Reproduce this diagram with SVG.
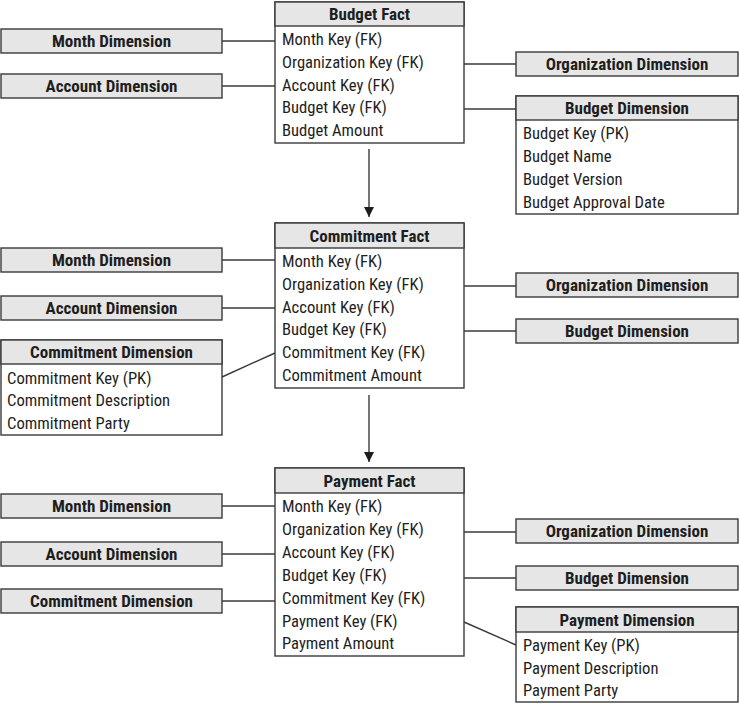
<svg xmlns="http://www.w3.org/2000/svg" width="739" height="704" viewBox="0 0 739 704">
<defs>
<style>
.box{fill:#fff;stroke:#3a3a3a;stroke-width:1.4}
.hd{fill:#e6e6e6;stroke:#3a3a3a;stroke-width:1.4}
.ht{font-family:"Liberation Sans Narrow","Roboto Condensed","DejaVu Sans Condensed",sans-serif;font-weight:bold;font-size:17px;fill:#1e1e1e;text-anchor:middle}
.t{font-family:"Liberation Sans Narrow","Roboto Condensed","DejaVu Sans Condensed",sans-serif;font-size:16.6px;fill:#1e1e1e}
.ln{stroke:#3a3a3a;stroke-width:1.4;fill:none}
</style>
<marker id="ah" viewBox="0 0 10 10" refX="10" refY="5" markerWidth="10" markerHeight="10" markerUnits="userSpaceOnUse" orient="auto">
<path d="M0,0 L10,5 L0,10 z" fill="#1e1e1e"/>
</marker>
</defs>
<rect width="739" height="704" fill="#fff"/>

<g id="connectors">
<line class="ln" x1="222" y1="41" x2="275" y2="41"/>
<line class="ln" x1="222" y1="86" x2="275" y2="86"/>
<line class="ln" x1="464" y1="64" x2="516" y2="64"/>
<line class="ln" x1="464" y1="109" x2="516" y2="109"/>
<line class="ln" x1="369" y1="149" x2="369" y2="217" marker-end="url(#ah)"/>
<line class="ln" x1="222" y1="260" x2="275" y2="260"/>
<line class="ln" x1="222" y1="308" x2="275" y2="308"/>
<line class="ln" x1="222" y1="377" x2="275" y2="353"/>
<line class="ln" x1="464" y1="286" x2="516" y2="286"/>
<line class="ln" x1="464" y1="331" x2="516" y2="331"/>
<line class="ln" x1="369" y1="395" x2="369" y2="462" marker-end="url(#ah)"/>
<line class="ln" x1="222" y1="506" x2="275" y2="506"/>
<line class="ln" x1="222" y1="554" x2="275" y2="554"/>
<line class="ln" x1="222" y1="601" x2="275" y2="601"/>
<line class="ln" x1="464" y1="532" x2="516" y2="532"/>
<line class="ln" x1="464" y1="578" x2="516" y2="578"/>
<line class="ln" x1="464" y1="622" x2="516" y2="645"/>
</g>

<g id="budget-fact">
<rect class="box" x="275" y="2" width="189" height="141"/>
<rect class="hd" x="275" y="2" width="189" height="24"/>
<text class="ht" x="369.5" y="20">Budget Fact</text>
<text class="t" x="282" y="45">Month Key (FK)</text>
<text class="t" x="282" y="68">Organization Key (FK)</text>
<text class="t" x="282" y="91">Account Key (FK)</text>
<text class="t" x="282" y="113">Budget Key (FK)</text>
<text class="t" x="282" y="136">Budget Amount</text>
</g>
<g id="month-dim-1">
<rect class="hd" x="1" y="29" width="221" height="24"/>
<text class="ht" x="111.5" y="47">Month Dimension</text>
</g>
<g id="account-dim-1">
<rect class="hd" x="1" y="74" width="221" height="24"/>
<text class="ht" x="111.5" y="92">Account Dimension</text>
</g>
<g id="org-dim-1">
<rect class="hd" x="516" y="52" width="222" height="24"/>
<text class="ht" x="627" y="70">Organization Dimension</text>
</g>
<g id="budget-dim-1">
<rect class="box" x="516" y="96" width="222" height="118"/>
<rect class="hd" x="516" y="96" width="222" height="24"/>
<text class="ht" x="627" y="114">Budget Dimension</text>
<text class="t" x="523" y="139">Budget Key (PK)</text>
<text class="t" x="523" y="162">Budget Name</text>
<text class="t" x="523" y="185">Budget Version</text>
<text class="t" x="523" y="208">Budget Approval Date</text>
</g>

<g id="commitment-fact">
<rect class="box" x="275" y="223" width="189" height="165"/>
<rect class="hd" x="275" y="223" width="189" height="25"/>
<text class="ht" x="369.5" y="242">Commitment Fact</text>
<text class="t" x="282" y="267">Month Key (FK)</text>
<text class="t" x="282" y="290">Organization Key (FK)</text>
<text class="t" x="282" y="313">Account Key (FK)</text>
<text class="t" x="282" y="335">Budget Key (FK)</text>
<text class="t" x="282" y="358">Commitment Key (FK)</text>
<text class="t" x="282" y="381">Commitment Amount</text>
</g>
<g id="month-dim-2">
<rect class="hd" x="1" y="248" width="221" height="24"/>
<text class="ht" x="111.5" y="266">Month Dimension</text>
</g>
<g id="account-dim-2">
<rect class="hd" x="1" y="296" width="221" height="24"/>
<text class="ht" x="111.5" y="314">Account Dimension</text>
</g>
<g id="commitment-dim-2">
<rect class="box" x="1" y="340" width="221" height="95"/>
<rect class="hd" x="1" y="340" width="221" height="24"/>
<text class="ht" x="111.5" y="358">Commitment Dimension</text>
<text class="t" x="7" y="384">Commitment Key (PK)</text>
<text class="t" x="7" y="406">Commitment Description</text>
<text class="t" x="7" y="429">Commitment Party</text>
</g>
<g id="org-dim-2">
<rect class="hd" x="516" y="273" width="222" height="24"/>
<text class="ht" x="627" y="291">Organization Dimension</text>
</g>
<g id="budget-dim-2">
<rect class="hd" x="516" y="319" width="222" height="24"/>
<text class="ht" x="627" y="337">Budget Dimension</text>
</g>

<g id="payment-fact">
<rect class="box" x="275" y="468" width="189" height="188"/>
<rect class="hd" x="275" y="468" width="189" height="25"/>
<text class="ht" x="369.5" y="487">Payment Fact</text>
<text class="t" x="282" y="512">Month Key (FK)</text>
<text class="t" x="282" y="535">Organization Key (FK)</text>
<text class="t" x="282" y="558">Account Key (FK)</text>
<text class="t" x="282" y="581">Budget Key (FK)</text>
<text class="t" x="282" y="604">Commitment Key (FK)</text>
<text class="t" x="282" y="627">Payment Key (FK)</text>
<text class="t" x="282" y="649">Payment Amount</text>
</g>
<g id="month-dim-3">
<rect class="hd" x="1" y="494" width="221" height="24"/>
<text class="ht" x="111.5" y="512">Month Dimension</text>
</g>
<g id="account-dim-3">
<rect class="hd" x="1" y="542" width="221" height="24"/>
<text class="ht" x="111.5" y="560">Account Dimension</text>
</g>
<g id="commitment-dim-3">
<rect class="hd" x="1" y="589" width="221" height="24"/>
<text class="ht" x="111.5" y="607">Commitment Dimension</text>
</g>
<g id="org-dim-3">
<rect class="hd" x="516" y="519" width="222" height="24"/>
<text class="ht" x="627" y="537">Organization Dimension</text>
</g>
<g id="budget-dim-3">
<rect class="hd" x="516" y="566" width="222" height="24"/>
<text class="ht" x="627" y="584">Budget Dimension</text>
</g>
<g id="payment-dim-3">
<rect class="box" x="516" y="607" width="222" height="95"/>
<rect class="hd" x="516" y="607" width="222" height="25"/>
<text class="ht" x="627" y="626">Payment Dimension</text>
<text class="t" x="523" y="651">Payment Key (PK)</text>
<text class="t" x="523" y="674">Payment Description</text>
<text class="t" x="523" y="696">Payment Party</text>
</g>
</svg>
